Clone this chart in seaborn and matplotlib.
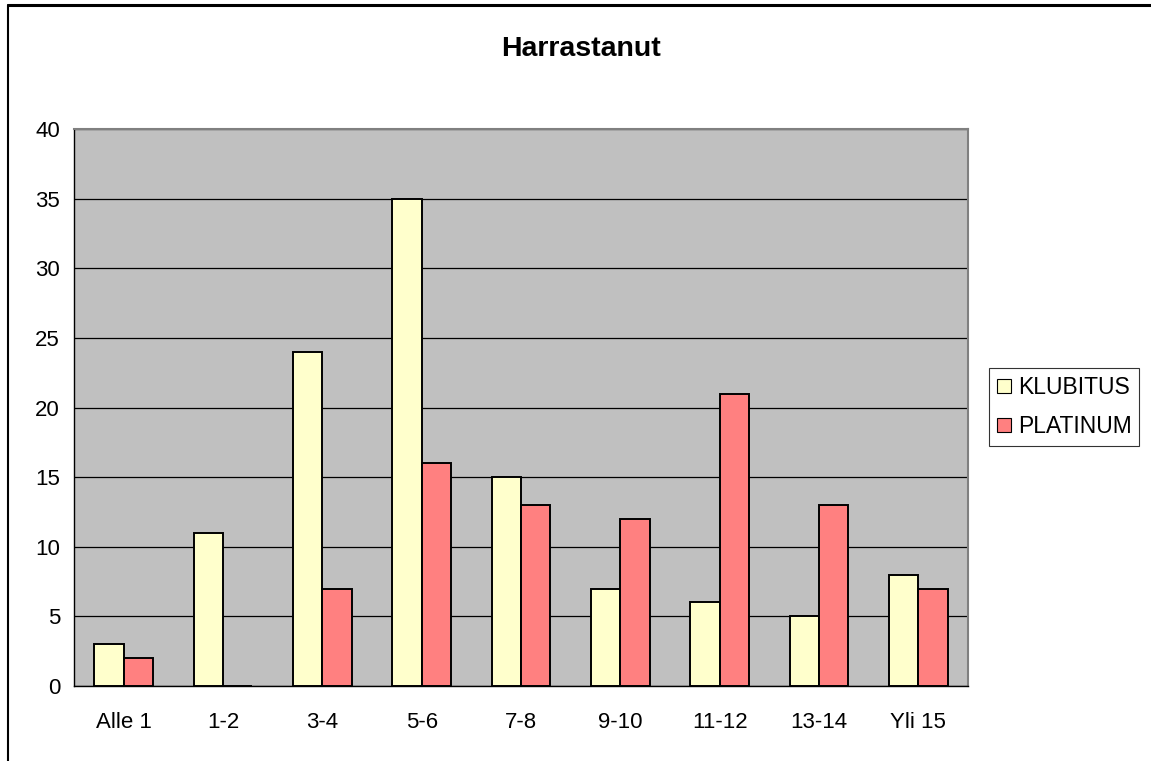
import matplotlib
matplotlib.use("Agg")
import matplotlib.pyplot as plt
import seaborn as sns
import pandas as pd
from matplotlib.lines import Line2D

categories = ["Alle 1", "1-2", "3-4", "5-6", "7-8", "9-10", "11-12", "13-14", "Yli 15"]
klubitus = [3, 11, 24, 35, 15, 7, 6, 5, 8]
platinum = [2, 0, 7, 16, 13, 12, 21, 13, 7]
series_names = ["KLUBITUS", "PLATINUM"]
colors = ["#FFFFCC", "#FF8080"]

df = pd.DataFrame({
    "cat": categories * 2,
    "val": klubitus + platinum,
    "series": [series_names[0]] * len(categories) + [series_names[1]] * len(categories),
})

sns.set_style("white")
plt.rcParams["font.family"] = ["Liberation Sans", "DejaVu Sans"]
plt.rcParams["text.color"] = "black"
plt.rcParams["xtick.color"] = "black"
plt.rcParams["ytick.color"] = "black"
plt.rcParams["axes.labelcolor"] = "black"

W, H = 1151, 761
fig = plt.figure(figsize=(W / 100, H / 100), dpi=100)
ax = fig.add_axes([74 / W, 1 - 686 / H, (968 - 74) / W, (686 - 129) / H])
ax.set_facecolor("#C0C0C0")

sns.barplot(data=df, x="cat", y="val", hue="series", palette=colors,
            order=categories, hue_order=series_names, width=0.59,
            edgecolor="black", linewidth=1.4, ax=ax, zorder=3, saturation=1)

ax.set_ylim(0, 40)
ax.set_xlim(-0.5, len(categories) - 0.5)
ax.set_yticks(range(0, 41, 5))
ax.yaxis.grid(True, color="black", linewidth=0.9, zorder=1)
ax.set_axisbelow(True)
ax.set_xlabel("")
ax.set_ylabel("")

ax.set_xticks([i for i in range(len(categories))])
ax.set_xticklabels(categories)
ax.tick_params(axis="x", length=0, pad=19, labelsize=16, labelcolor="black")
ax.set_xticks([i - 0.5 for i in range(len(categories) + 1)], minor=True)
ax.tick_params(axis="x", which="minor", length=6, width=1, color="black", direction="out")
ax.tick_params(axis="y", length=5, width=1, color="black", direction="out", labelsize=16, pad=5,
               labelcolor="black")

for s in ["left", "bottom"]:
    ax.spines[s].set_color("black")
    ax.spines[s].set_linewidth(1.0)
for s in ["top", "right"]:
    ax.spines[s].set_color("#808080")
    ax.spines[s].set_linewidth(1.5)

leg = ax.legend(loc="upper left", bbox_to_anchor=(989 / W, 1 - 368 / H), bbox_transform=fig.transFigure,
                frameon=True, fancybox=False, edgecolor="black", fontsize=16.5,
                handlelength=0.6, handleheight=0.6, handletextpad=0.3, borderpad=0.35,
                labelspacing=0.7, borderaxespad=0)
leg.get_frame().set_linewidth(0.8)
for t in leg.get_texts():
    t.set_color("black")
for h in leg.legend_handles:
    h.set_edgecolor("black")
    h.set_linewidth(0.8)

fig.text(581 / W, 1 - 49 / H, "Harrastanut", ha="center", va="center",
         fontsize=20.5, fontweight="bold", color="black")

fig.add_artist(Line2D([8 / W, 1.0], [1 - 5 / H, 1 - 5 / H], transform=fig.transFigure,
                      color="black", linewidth=2.2))
fig.add_artist(Line2D([8 / W, 8 / W], [1 - 5 / H, 0], transform=fig.transFigure,
                      color="black", linewidth=1.5))

fig.savefig("out.png", dpi=100)
